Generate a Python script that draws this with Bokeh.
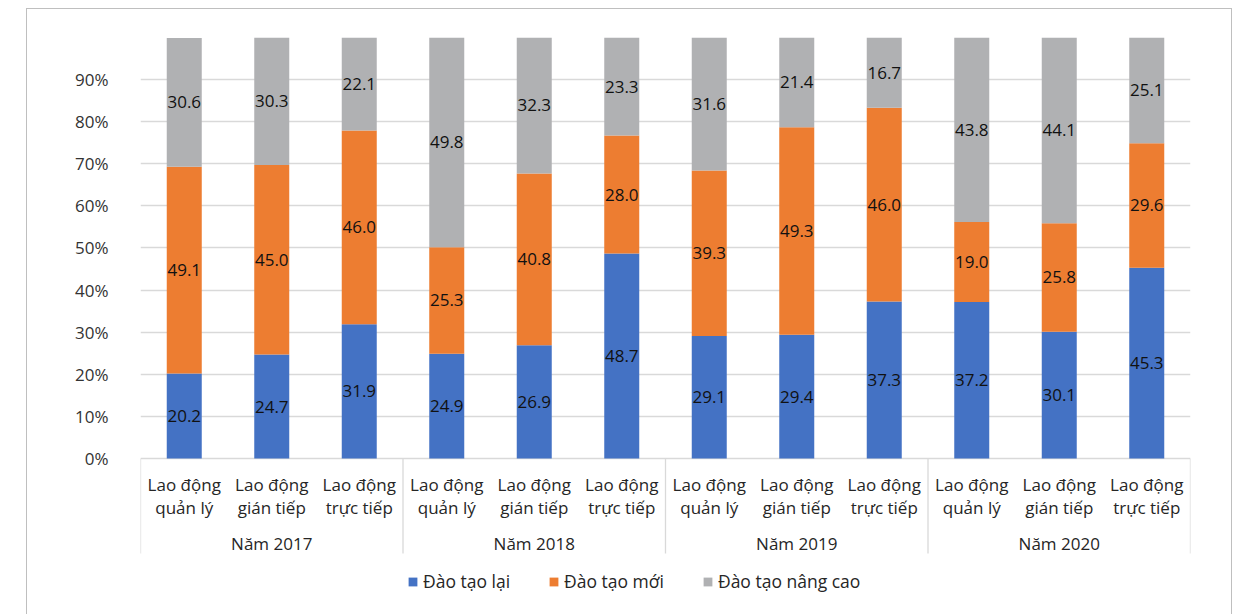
from bokeh.plotting import figure
from bokeh.models import (ColumnDataSource, Range1d, FixedTicker, NumeralTickFormatter,
                          Legend, LegendItem)
from bokeh.core.properties import value
from bokeh.embed import file_html
from bokeh.resources import INLINE

# ---- data ----
years = ["Năm 2017", "Năm 2018", "Năm 2019", "Năm 2020"]
cat_line1 = ["Lao động", "Lao động", "Lao động"]
cat_line2 = ["quản lý", "gián tiếp", "trực tiếp"]
series_names = ["Đào tạo lại", "Đào tạo mới", "Đào tạo nâng cao"]
dao_tao_lai = [20.2, 24.7, 31.9, 24.9, 26.9, 48.7, 29.1, 29.4, 37.3, 37.2, 30.1, 45.3]
dao_tao_moi = [49.1, 45.0, 46.0, 25.3, 40.8, 28.0, 39.3, 49.3, 46.0, 19.0, 25.8, 29.6]
dao_tao_nang_cao = [30.6, 30.3, 22.1, 49.8, 32.3, 23.3, 31.6, 21.4, 16.7, 43.8, 44.1, 25.1]
y_ticks = [0, 0.1, 0.2, 0.3, 0.4, 0.5, 0.6, 0.7, 0.8, 0.9]
colors = ["#4472C4", "#ED7D31", "#B0B1B3"]

FONT = "Open Sans"
n = len(dao_tao_lai)
ncat = len(cat_line1)
xs = [i + 0.5 for i in range(n)]

p = figure(width=1206, height=612, output_backend="svg", toolbar_location=None,
           x_range=Range1d(0, n), y_range=Range1d(-0.3373, 1.0),
           x_axis_location=None, min_border_left=113, min_border_right=43,
           min_border_top=28, min_border_bottom=21)
p.styles = {"margin-left": "26px", "margin-top": "8px", "border": "1px solid #BFBFBF"}
p.outline_line_color = None
p.background_fill_color = "white"
p.border_fill_color = "white"

# axes / grid
p.xgrid.visible = False
p.ygrid.ticker = FixedTicker(ticks=y_ticks + [1.0])
p.ygrid.grid_line_color = "#D9D9D9"
p.ygrid.grid_line_width = 1.3
p.yaxis.ticker = FixedTicker(ticks=y_ticks)
p.yaxis.formatter = NumeralTickFormatter(format="0%")
p.yaxis.axis_line_color = None
p.yaxis.major_tick_line_color = None
p.yaxis.minor_tick_line_color = None
p.yaxis.major_label_standoff = 26
p.yaxis.major_label_text_font = FONT
p.yaxis.major_label_text_font_size = "17px"
p.yaxis.major_label_text_color = "#333333"

# stacked bars
series = [dao_tao_lai, dao_tao_moi, dao_tao_nang_cao]
bottoms = [0.0] * n
renderers = []
lab_x, lab_y, lab_t = [], [], []
for s, col in zip(series, colors):
    tops = [b + v / 100.0 for b, v in zip(bottoms, s)]
    src = ColumnDataSource(dict(x=xs, bottom=bottoms, top=tops))
    r = p.vbar(x="x", bottom="bottom", top="top", width=0.4, source=src,
               fill_color=col, line_color=None)
    renderers.append(r)
    for xi, b, t, v in zip(xs, bottoms, tops, s):
        lab_x.append(xi)
        lab_y.append((b + t) / 2)
        lab_t.append(f"{v:.1f}")
    bottoms = tops

p.text(x=lab_x, y=lab_y, text=lab_t, text_align="center", text_baseline="middle",
       text_font=value(FONT), text_font_size="17px", text_color="#111111")

# category labels (two lines) and year group labels
cx = xs
l1 = cat_line1 * len(years)
l2 = cat_line2 * len(years)
p.text(x=cx, y=[-0.061] * n, text=l1, text_align="center", text_baseline="middle",
       text_font=value(FONT), text_font_size="17px", text_color="#262626")
p.text(x=cx, y=[-0.116] * n, text=l2, text_align="center", text_baseline="middle",
       text_font=value(FONT), text_font_size="17px", text_color="#262626")
gx = [g * ncat + ncat / 2 for g in range(len(years))]
p.text(x=gx, y=[-0.202] * len(years), text=years, text_align="center",
       text_baseline="middle", text_font=value(FONT), text_font_size="17px",
       text_color="#262626")

# group separators
sep_x = [g * ncat for g in range(len(years) + 1)]
p.segment(x0=sep_x, x1=sep_x, y0=[0] * len(sep_x), y1=[-0.2257] * len(sep_x),
          line_color="#D9D9D9", line_width=1.3)

# legend
legend = Legend(items=[LegendItem(label=nm, renderers=[r]) for nm, r in zip(series_names, renderers)],
                orientation="horizontal", location=(267, 7))
legend.border_line_color = None
legend.background_fill_alpha = 0
legend.padding = 0
legend.margin = 0
legend.spacing = 38
legend.glyph_width = 11
legend.glyph_height = 11
legend.label_standoff = 5
legend.label_text_font = FONT
legend.label_text_font_size = "17.5px"
legend.label_text_color = "#262626"
p.add_layout(legend)

open("out.html", "w").write(file_html(p, INLINE))
